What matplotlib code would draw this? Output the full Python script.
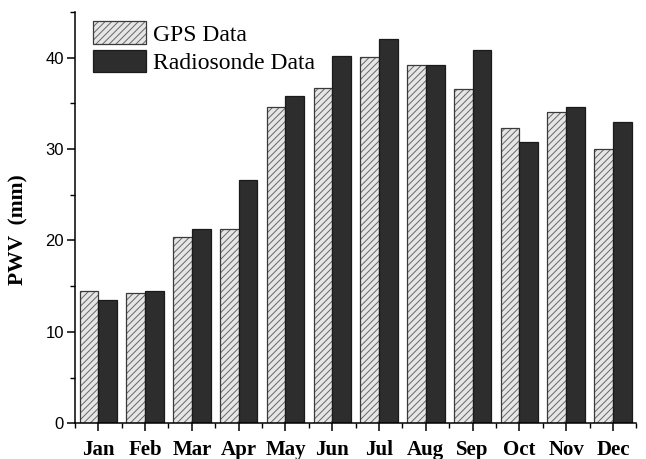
import matplotlib.pyplot as plt
from matplotlib.ticker import MultipleLocator
import numpy as np

# monthly PWV values (mm)
months = ["Jan", "Feb", "Mar", "Apr", "May", "Jun",
          "Jul", "Aug", "Sep", "Oct", "Nov", "Dec"]
gps = [14.5, 14.3, 20.4, 21.3, 34.6, 36.7, 40.1, 39.2, 36.6, 32.3, 34.0, 30.0]
radiosonde = [13.5, 14.5, 21.2, 26.6, 35.8, 40.2, 42.0, 39.2, 40.8, 30.8, 34.6, 33.0]

plt.rcParams['hatch.linewidth'] = 0.7

fig = plt.figure(figsize=(6.46, 4.59), dpi=100)
ax = fig.add_axes([0.116, 0.078, 0.869, 0.896])

x = np.arange(len(months))
w = 0.4

# hatched GPS bars: fill + hatch layer, then outline layer
b1 = ax.bar(x - w / 2, gps, w, color="#e6e6e6", edgecolor="#666666",
            hatch="/////", linewidth=0)
b1o = ax.bar(x - w / 2, gps, w, fill=False, edgecolor="#3a3a3a", linewidth=0.9)
b2 = ax.bar(x + w / 2, radiosonde, w, color="#2d2d2d", edgecolor="#1a1a1a",
            linewidth=0.9)

ax.set_xlim(-0.5, 11.5)
ax.set_ylim(0, 45)

ax.spines["top"].set_visible(False)
ax.spines["right"].set_visible(False)
ax.spines["left"].set_linewidth(1.1)
ax.spines["bottom"].set_linewidth(1.1)

ax.set_xticks(x)
ax.set_xticklabels(months, fontfamily="Liberation Serif", fontweight="bold", fontsize=15)
ax.xaxis.set_minor_locator(MultipleLocator(1, offset=0.5))
ax.yaxis.set_major_locator(MultipleLocator(10))
ax.yaxis.set_minor_locator(MultipleLocator(5))
for lbl in ax.get_yticklabels():
    lbl.set_fontfamily("Liberation Sans")
    lbl.set_fontsize(12)
ax.tick_params(which="major", direction="out", length=6, width=1.1, pad=2)
ax.tick_params(which="minor", direction="out", length=3.5, width=1.0)
ax.tick_params(axis="x", which="major", pad=6)

ax.set_ylabel("PWV  (mm)", fontfamily="Liberation Serif", fontweight="bold", fontsize=15.5)
ax.yaxis.set_label_coords(-0.082, 0.47)

ax.legend([(b1, b1o), b2], ["GPS Data", "Radiosonde Data"],
          loc="upper left", bbox_to_anchor=(0.015, 1.0), borderaxespad=0,
          frameon=False, prop={"family": "Liberation Serif", "size": 17},
          handlelength=2.25, handleheight=1.1, labelspacing=0.17,
          handletextpad=0.3, borderpad=0.4)

plt.savefig("out.png", dpi=100)
